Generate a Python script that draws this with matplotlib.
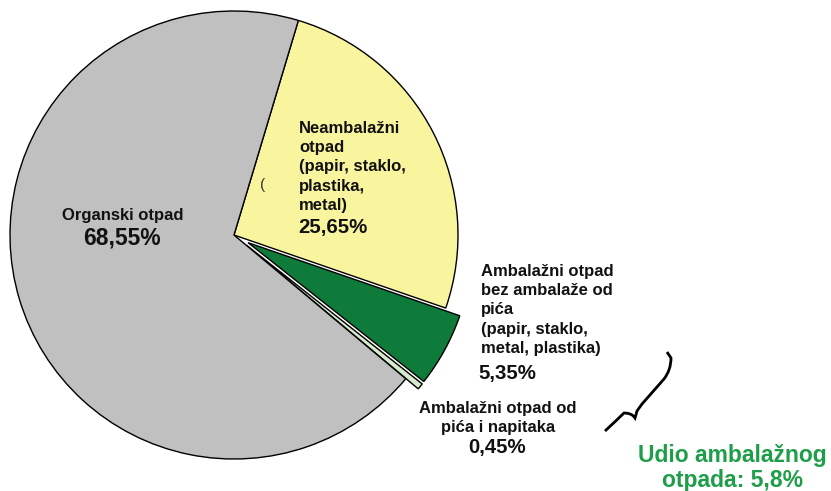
import matplotlib.pyplot as plt
from matplotlib.path import Path
from matplotlib.patches import PathPatch

# data
shares = [25.65, 5.35, 0.45, 68.55]
colors = ['#f9f59f', '#0e7b3b', '#d5ebcc', '#c0c0c0']
explode = [0, 16, 16, 0]
pct_labels = ['25,65%', '5,35%', '0,45%', '68,55%']
names = ['Neambalažni\notpad\n(papir, staklo,\nplastika,\nmetal)',
         'Ambalažni otpad\nbez ambalaže od\npića\n(papir, staklo,\nmetal, plastika)',
         'Ambalažni otpad od\npića i napitaka',
         'Organski otpad']
total_note = 'Udio ambalažnog\notpada: 5,8%'

plt.rcParams['font.family'] = ['Liberation Sans', 'DejaVu Sans']

W, H = 831, 491
fig = plt.figure(figsize=(W / 100, H / 100), dpi=100)
ax = fig.add_axes([0, 0, 1, 1])

def Y(y):
    # image row -> data y
    return H - y

ax.pie(shares, colors=colors, explode=explode, startangle=73.3, counterclock=False,
       center=(234, Y(235)), radius=224, frame=True,
       wedgeprops=dict(edgecolor='black', linewidth=1))
ax.set_xlim(0, W)
ax.set_ylim(0, H)
ax.axis('off')

ink = '#111111'
ls = 1.35

# organski
ax.text(123, Y(215), names[3], ha='center', va='center', fontsize=12, fontweight='bold', color=ink)
ax.text(122, Y(238), pct_labels[3], ha='center', va='center', fontsize=16.5, fontweight='bold', color=ink)

# neambalazni
ax.text(299, Y(121), names[0], ha='left', va='top', fontsize=12, fontweight='bold',
        linespacing=ls, color=ink)
ax.text(298, Y(227), pct_labels[0], ha='left', va='center', fontsize=14.7, fontweight='bold', color=ink)
ax.text(263, Y(185), '(', ha='center', va='center', fontsize=11, color='#333333')

# ambalazni bez pica
ax.text(481, Y(264), names[1], ha='left', va='top', fontsize=12, fontweight='bold',
        linespacing=ls, color=ink)
ax.text(478, Y(374), pct_labels[1], ha='left', va='center', fontsize=14.7, fontweight='bold', color=ink)

# ambalazni od pica
ax.text(498, Y(401), names[2], ha='center', va='top', fontsize=12, fontweight='bold',
        linespacing=ls, color=ink)
ax.text(497, Y(447), pct_labels[2], ha='center', va='center', fontsize=14.7, fontweight='bold', color=ink)

# brace
verts = [(605, 431), (618, 419), (624, 413), (632, 413), (635, 418),
         (637, 411), (642, 404), (664, 379), (671, 370), (671, 358), (667, 352)]
codes = [Path.MOVETO, Path.CURVE3, Path.CURVE3, Path.CURVE3, Path.CURVE3,
         Path.LINETO, Path.LINETO, Path.LINETO, Path.CURVE3, Path.CURVE3, Path.LINETO]
path = Path([(x, Y(y)) for x, y in verts], codes)
ax.add_patch(PathPatch(path, facecolor='none', edgecolor='black', linewidth=2))

ax.text(732, Y(468), total_note, ha='center', va='center', fontsize=16.5, fontweight='bold',
        linespacing=1.15, color='#1e9e48')

fig.savefig('out.png', dpi=100)
